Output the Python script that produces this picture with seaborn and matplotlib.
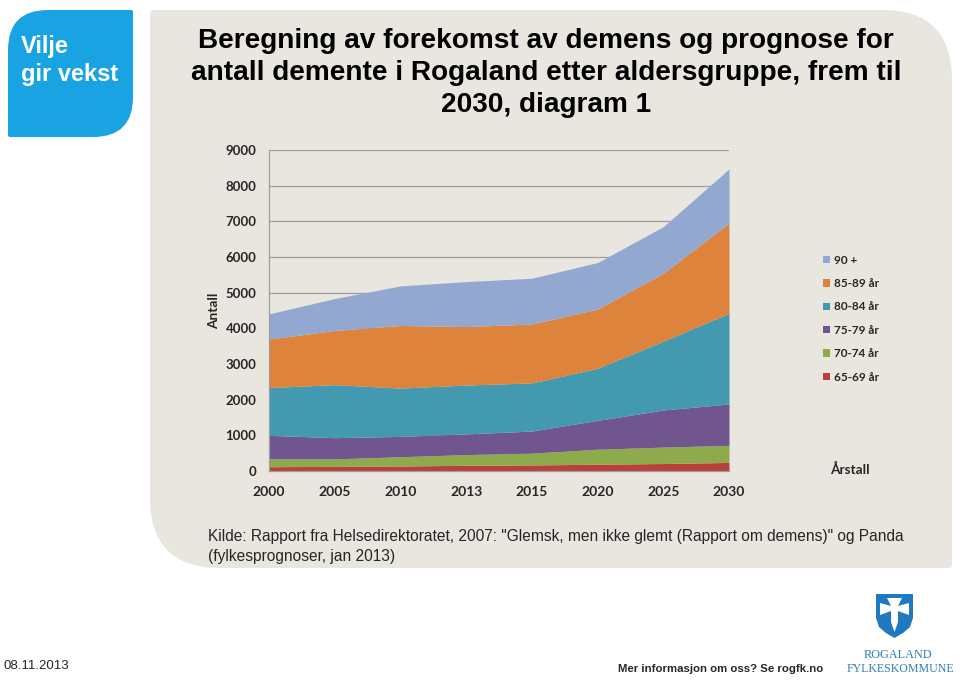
import matplotlib
matplotlib.use("Agg")
import matplotlib.pyplot as plt
from matplotlib.path import Path
from matplotlib.patches import PathPatch, Patch, Polygon
import seaborn as sns

# data (number of people with dementia per age group)
years = ["2000", "2005", "2010", "2013", "2015", "2020", "2025", "2030"]
age_groups = ["65-69 år", "70-74 år", "75-79 år", "80-84 år", "85-89 år", "90 +"]
a65_69 = [120, 130, 140, 160, 170, 190, 210, 240]
a70_74 = [220, 210, 260, 300, 330, 420, 460, 480]
a75_79 = [660, 595, 570, 580, 620, 810, 1040, 1160]
a80_84 = [1340, 1485, 1355, 1370, 1350, 1460, 1930, 2540]
a85_89 = [1360, 1520, 1755, 1640, 1650, 1660, 1905, 2530]
a90_plus = [705, 895, 1110, 1260, 1285, 1305, 1305, 1520]
y_ticks = [0, 1000, 2000, 3000, 4000, 5000, 6000, 7000, 8000, 9000]

colors = ["#B9403D", "#8EAB4C", "#71558F", "#4299B0", "#DE833C", "#93A8D1"]
panel_color = "#E9E6E0"
lato = ["Lato", "DejaVu Sans"]

sns.set_theme(style="white")
plt.rcParams['font.family'] = ['Liberation Sans', 'DejaVu Sans']

fig = plt.figure(figsize=(9.6, 6.81), dpi=100)
fig.patch.set_facecolor("white")

# background layer in pixel coordinates
bg = fig.add_axes([0, 0, 1, 1], zorder=0)
bg.set_xlim(0, 960)
bg.set_ylim(681, 0)
bg.axis("off")


def leaf_box(x0, y0, x1, y1, tl=0, tr=0, br=0, bl=0):
    verts = [(x0, y0 + tl), (x0, y0), (x0 + tl, y0),
             (x1 - tr, y0), (x1, y0), (x1, y0 + tr),
             (x1, y1 - br), (x1, y1), (x1 - br, y1),
             (x0 + bl, y1), (x0, y1), (x0, y1 - bl),
             (x0, y0 + tl)]
    codes = [Path.MOVETO, Path.CURVE3, Path.CURVE3,
             Path.LINETO, Path.CURVE3, Path.CURVE3,
             Path.LINETO, Path.CURVE3, Path.CURVE3,
             Path.LINETO, Path.CURVE3, Path.CURVE3,
             Path.CLOSEPOLY]
    return Path(verts, codes)


# grey content panel
bg.add_patch(PathPatch(leaf_box(150, 10, 952, 568, tl=4, tr=70, br=4, bl=70),
                       facecolor=panel_color, edgecolor="none"))
# blue "Vilje gir vekst" logo
bg.add_patch(PathPatch(leaf_box(8, 10, 133, 137, tl=40, tr=2, br=40, bl=2),
                       facecolor="#1AA3E3", edgecolor="none"))
bg.text(21, 46, "Vilje", color="white", fontsize=17, fontweight="bold", va="center")
bg.text(21, 74, "gir vekst", color="white", fontsize=17, fontweight="bold", va="center")

# title
bg.text(546, 73, "Beregning av forekomst av demens og prognose for\n"
                 "antall demente i Rogaland etter aldersgruppe, frem til\n"
                 "2030, diagram 1",
        ha="center", va="center", fontsize=20.2, fontweight="bold",
        linespacing=1.32, color="black")

# source note
bg.text(208, 536, 'Kilde: Rapport fra Helsedirektoratet, 2007: "Glemsk, men ikke glemt '
                  '(Rapport om demens)" og Panda', fontsize=11.2, va="center")
bg.text(208, 556, "(fylkesprognoser, jan 2013)", fontsize=11.2, va="center")

# footer
bg.text(3, 666, "08.11.2013", fontsize=9.5, va="center")
bg.text(823, 669, "Mer informasjon om oss? Se rogfk.no", fontsize=8.2,
        fontweight="bold", ha="right", va="center")

# Rogaland shield
shield = Polygon([(876, 594), (913, 594), (913, 618), (910, 627), (903, 633),
                  (894.5, 638), (886, 633), (879, 627), (876, 618)],
                 closed=True, facecolor="#2078BF", edgecolor="none")
bg.add_patch(shield)
cross = Polygon([(887, 598), (902, 598), (898, 606), (909, 603), (909, 615),
                 (898, 611), (898, 622), (894.5, 632), (891, 622), (891, 611),
                 (880, 615), (880, 603), (891, 606)],
                closed=True, facecolor="white", edgecolor="none")
bg.add_patch(cross)
bg.text(898, 655, "ROGALAND", family=["Liberation Serif"], fontsize=8.8,
        color="#2E7DB5", ha="center", va="center")
bg.text(900, 669, "FYLKESKOMMUNE", family=["Liberation Serif"], fontsize=8.6,
        color="#2E7DB5", ha="center", va="center")

# chart
ax = fig.add_axes([269 / 960, 1 - 471 / 681, 460 / 960, 321 / 681], zorder=1)
ax.set_facecolor("none")
x = list(range(len(years)))
series = [a65_69, a70_74, a75_79, a80_84, a85_89, a90_plus]
ax.stackplot(x, *series, colors=colors, labels=age_groups, linewidth=0, zorder=2)

ax.set_xlim(0, len(years) - 1)
ax.set_ylim(0, 9000)
ax.set_yticks(y_ticks)
ax.set_yticklabels([str(v) for v in y_ticks])
ax.set_xticks(x)
ax.set_xticklabels(years)
ax.grid(axis="y", color="#9E9E9E", linewidth=0.9, zorder=0)
ax.set_axisbelow(True)
for side in ["top", "right"]:
    ax.spines[side].set_visible(False)
for side in ["left", "bottom"]:
    ax.spines[side].set_color("#9E9E9E")
    ax.spines[side].set_linewidth(0.9)
ax.tick_params(axis="both", which="both", direction="out", length=4,
               color="#9E9E9E", width=0.9, labelsize=9.5)
ax.tick_params(axis="y", pad=5)
ax.tick_params(axis="x", pad=7, labelsize=10)
for lab in ax.get_xticklabels() + ax.get_yticklabels():
    lab.set_family(lato)
    lab.set_fontweight("bold")

ax.set_ylabel("Antall", family=lato, fontweight="bold", fontsize=9.8, labelpad=4)
bg.text(850, 469, "Årstall", family=lato, fontweight="bold", fontsize=9.8,
        ha="center", va="center")

handles = [Patch(facecolor=c, edgecolor="none", label=l) for c, l in zip(colors, age_groups)]
leg = ax.legend(handles=handles[::-1], loc="upper left", bbox_to_anchor=(812 / 960, 1 - 244 / 681),
                bbox_transform=fig.transFigure, frameon=False, handlelength=0.6,
                handleheight=0.6, handletextpad=0.4, labelspacing=1.05,
                prop={"family": lato, "weight": "bold", "size": 8.5})

fig.savefig("out.png", dpi=100, facecolor=fig.get_facecolor())
